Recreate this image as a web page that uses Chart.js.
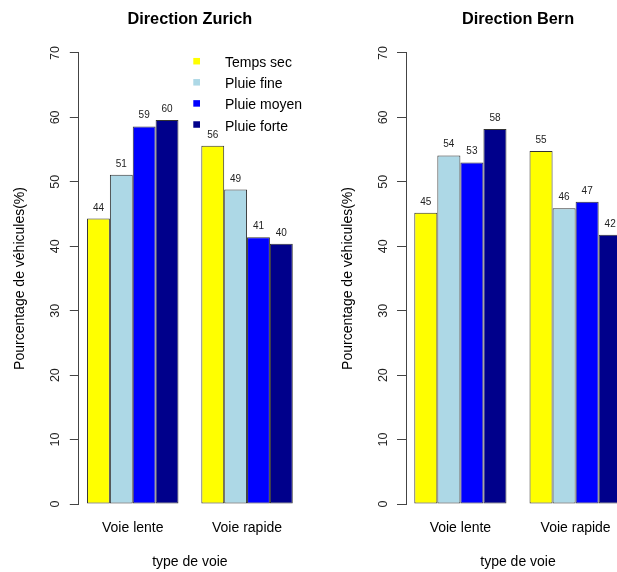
<!DOCTYPE html>
<html>
<head>
<meta charset="utf-8">
<script src="https://cdn.jsdelivr.net/npm/chart.js@4"></script>
<style>
  html, body { margin: 0; padding: 0; background: #fff; overflow: hidden; }
  #wrap { position: relative; width: 617px; height: 572px; overflow: hidden; }
  canvas { position: absolute; top: 0; }
</style>
</head>
<body>
<div id="wrap">
  <canvas id="zurich" width="310" height="572" style="left:0"></canvas>
  <canvas id="bern" width="320" height="572" style="left:310px"></canvas>
</div>
<script>
// road types and weather series
const categories = ['Voie lente', 'Voie rapide']
const seriesNames = ['Temps sec', 'Pluie fine', 'Pluie moyen', 'Pluie forte']
const seriesColors = ['#ffff00', '#add8e6', '#0000ff', '#00008b']

// percentage of vehicles, [Voie lente, Voie rapide]
const zurichTempsSec = [44.3, 55.6]
const zurichPluieFine = [51.1, 48.8]
const zurichPluieMoyen = [58.6, 41.4]
const zurichPluieForte = [59.6, 40.4]

const bernTempsSec = [45.2, 54.8]
const bernPluieFine = [54.1, 45.9]
const bernPluieMoyen = [53.0, 46.9]
const bernPluieForte = [58.2, 41.8]

const yTicks = [0, 10, 20, 30, 40, 50, 60, 70]

Chart.defaults.font.family = "'Liberation Sans', Arial, sans-serif"
Chart.defaults.color = '#000'

// value labels above each bar
const barLabels = {
    id: 'barLabels',
    afterDatasetsDraw(chart) {
        const ctx = chart.ctx
        ctx.save()
        ctx.font = "10px 'Liberation Sans', Arial, sans-serif"
        ctx.fillStyle = '#222'
        ctx.textAlign = 'center'
        ctx.textBaseline = 'alphabetic'
        chart.data.datasets.forEach((ds, j) => {
            chart.getDatasetMeta(j).data.forEach((bar, i) => {
                ctx.fillText(Math.round(ds.data[i].y), bar.x, bar.y - 8)
            })
        })
        ctx.restore()
    }
}

// R style legend in the top right corner of the plot
const cornerLegend = {
    id: 'cornerLegend',
    afterDraw(chart, args, opts) {
        if (!opts.show) return
        const ctx = chart.ctx
        const area = chart.chartArea
        ctx.save()
        ctx.font = "14px 'Liberation Sans', Arial, sans-serif"
        ctx.textBaseline = 'alphabetic'
        chart.data.datasets.forEach((ds, j) => {
            const base = area.top + 14.3 + j * 21.1
            ctx.fillStyle = ds.backgroundColor
            ctx.fillRect(area.right - 107.7, base - 9.3, 6.7, 6.5)
            ctx.fillStyle = '#000'
            ctx.fillText(ds.label, area.right - 76, base)
        })
        ctx.restore()
    }
}

function makeChart(canvasId, title, series, layoutOpts) {
    const datasets = series.map((values, j) => ({
        label: seriesNames[j],
        data: values.map((v, i) => ({ x: i, y: v })),
        backgroundColor: seriesColors[j],
        borderColor: '#333',
        borderWidth: 1,
        borderSkipped: false,
        categoryPercentage: 0.8,
        barPercentage: 1
    }))

    const config = {
        type: 'bar',
        data: { datasets: datasets },
        options: {
            responsive: false,
            animation: false,
            layout: {
                padding: { left: 0, right: layoutOpts.padRight, top: 0, bottom: 0 }
            },
            plugins: {
                legend: { display: false },
                tooltip: { enabled: false },
                title: {
                    display: true,
                    text: title,
                    fullSize: false,
                    color: '#000',
                    font: { size: 16.3, weight: 'bold' },
                    padding: { top: 10.2, bottom: 23.2 }
                },
                cornerLegend: { show: layoutOpts.legend }
            },
            scales: {
                x: {
                    type: 'linear',
                    offset: false,
                    bounds: 'data',
                    // bars span -0.4 .. 1.4, plus 4% like R
                    min: -0.472,
                    max: 1.472,
                    afterBuildTicks: (s) => { s.ticks = categories.map((c, i) => ({ value: i })) },
                    afterFit: (s) => { s.height = 68 },
                    grid: { display: false, drawTicks: false },
                    border: { display: false },
                    ticks: {
                        padding: 15.6,
                        color: '#000',
                        font: { size: 14 },
                        maxRotation: 0,
                        autoSkip: false,
                        callback: (v) => categories[v]
                    },
                    title: {
                        display: true,
                        text: 'type de voie',
                        color: '#000',
                        font: { size: 14 },
                        padding: { top: 0, bottom: 1.1 }
                    }
                },
                y: {
                    min: 0,
                    max: 70,
                    afterBuildTicks: (s) => { s.ticks = yTicks.map(v => ({ value: v })) },
                    afterFit: (s) => { s.width = layoutOpts.yWidth },
                    grid: {
                        drawOnChartArea: false,
                        drawTicks: true,
                        tickLength: 9,
                        color: '#444'
                    },
                    border: { display: true, color: '#444' },
                    ticks: {
                        minRotation: 90,
                        maxRotation: 90,
                        crossAlign: 'center',
                        padding: 7,
                        color: '#222',
                        font: { size: 12.5 }
                    },
                    title: {
                        display: true,
                        text: 'Pourcentage de véhicules(%)',
                        color: '#000',
                        font: { size: 14 },
                        padding: { top: layoutOpts.yTitlePad, bottom: 0 }
                    }
                }
            }
        },
        plugins: [barLabels, cornerLegend]
    }

    const canvas = document.getElementById(canvasId)
    return new Chart(canvas.getContext('2d'), config)
}

makeChart('zurich', 'Direction Zurich',
    [zurichTempsSec, zurichPluieFine, zurichPluieMoyen, zurichPluieForte],
    { yWidth: 78.8, yTitlePad: 11.6, padRight: 9, legend: true })

makeChart('bern', 'Direction Bern',
    [bernTempsSec, bernPluieFine, bernPluieMoyen, bernPluieForte],
    { yWidth: 96, yTitlePad: 29.6, padRight: 0, legend: false })
</script>
</body>
</html>
